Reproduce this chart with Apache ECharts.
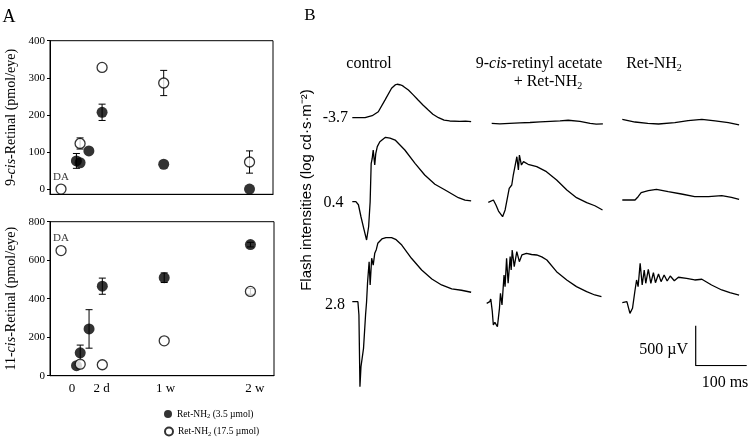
<!DOCTYPE html>
<html>
<head>
<meta charset="utf-8">
<script src="https://cdn.jsdelivr.net/npm/echarts@6/dist/echarts.min.js"></script>
<style>
html, body { margin: 0; padding: 0; background: #fff; }
#fig { width: 752px; height: 440px; }
</style>
</head>
<body>
<div id="fig"></div>
<script>
// ---------- panel A : retinal content (pmol/eye) ----------
// time positions on the (broken) time axis, DA = dark adapted
var dayLabels = ['0', '2 d', '1 w', '2 w'];
var dayLabelPos = [0, 2, 6.35, 12.4];
var lowDosePos = [0.3, 0.55, 1.15, 2.05, 6.25, 12.1];
var highDosePos = [-0.75, 0.55, 2.05, 6.25, 12.1];   // first one is DA

var cis9Low = [76, 71, 103, 207, 67, 0];
var cis9LowErr = [20, 0, 0, 22, 0, 0];
var cis9High = [0, 123, 328, 286, 73];
var cis9HighErr = [0, 15, 0, 34, 30];

var cis11Low = [52, 119, 243, 465, 509, 681];
var cis11LowErr = [0, 40, 100, 42, 25, 12];
var cis11High = [650, 60, 57, 181, 438];
var cis11HighErr = [0, 0, 0, 0, 15];

// ---------- panel B : ERG traces, [ms, µV] ----------
var ctrlDim = [[0,0],[25,0],[39,25],[51,75],[64,220],[77,368],[84,409],[88,418],[93,412],[97,405],[101,388],[110,346],[119,288],[129,221],[139,156],[149,96],[158,44],[169,0],[180,-31],[191,-41],[211,-46],[222,-44],[233,-50]];
var ctrlMid = [[0,0],[7,0],[12,-38],[17,-188],[23,-350],[28,-479],[32,-313],[35,0],[37,475],[39,540],[41,646],[43,520],[44,459],[46,600],[49,688],[54,750],[65,805],[74,794],[84,771],[103,646],[123,480],[142,334],[162,218],[182,146],[208,50],[221,19],[233,9]];
var ctrlBright = [[0,0],[11,0],[13,-167],[15,-1062],[17,-813],[22,-583],[26,-167],[28,0],[30,250],[33,500],[35,208],[38,543],[41,458],[44,605],[47,650],[50,730],[58,784],[66,800],[77,800],[86,775],[97,708],[116,543],[136,396],[156,284],[175,209],[195,159],[214,143],[233,118]];

var acetDim = [[0,0],[16,-6],[35,0],[55,6],[75,10],[95,19],[115,25],[134,31],[150,38],[173,25],[193,0],[205,-10],[218,-6]];
var acetMid = [[0,0],[10,29],[15,-34],[20,-109],[28,-180],[33,-96],[36,-118],[41,175],[46,216],[49,341],[52,320],[56,570],[59,404],[61,591],[65,466],[69,508],[78,475],[95,445],[114,383],[134,279],[154,154],[173,58],[193,-5],[209,-43],[224,-96]];
var acetBright = [[0,0],[6,20],[8,54],[11,-105],[13,-271],[16,-238],[21,-293],[25,-63],[27,125],[30,-21],[34,354],[36,208],[39,563],[42,250],[46,583],[48,416],[50,666],[54,458],[59,645],[64,520],[69,604],[78,625],[88,610],[98,604],[108,580],[118,541],[137,395],[157,291],[176,208],[196,145],[212,104],[225,83]];

var retDim = [[0,0],[25,-34],[50,-52],[71,-59],[103,-42],[129,-17],[156,0],[182,-21],[208,-42],[229,-71]];
var retMid = [[0,0],[25,0],[31,41],[37,91],[51,116],[67,134],[90,104],[116,75],[142,41],[169,41],[195,54],[214,34],[229,9]];
var retBright = [[0,0],[9,13],[15,-133],[20,-70],[25,159],[28,284],[31,200],[35,493],[39,221],[43,409],[46,243],[51,418],[56,243],[61,375],[65,250],[71,359],[76,263],[82,346],[88,271],[94,334],[102,275],[110,318],[126,305],[142,284],[156,293],[175,221],[195,159],[211,125],[229,96]];

var scaleBarMs = 100;
var scaleBarUv = 500;

// ---------- layout ----------
var SERIF = '"Liberation Serif", "Times New Roman", serif';
var SANS = '"Liberation Sans", Arial, sans-serif';
var PX_PER_MS = 0.51;
var PX_PER_UV = 0.08;
var T_MAX = 240, UV_MIN = -1200, UV_MAX = 900;

// start x and baseline y of each trace (pixels)
var traceList = [
    { d: ctrlDim,    x: 352.3, y: 117.7 },
    { d: ctrlMid,    x: 352.3, y: 201.7 },
    { d: ctrlBright, x: 352.3, y: 301.7 },
    { d: acetDim,    x: 491.7, y: 123.3 },
    { d: acetMid,    x: 488.3, y: 202.3 },
    { d: acetBright, x: 486.7, y: 303.3 },
    { d: retDim,     x: 622.3, y: 119.3 },
    { d: retMid,     x: 622.3, y: 200.0 },
    { d: retBright,  x: 622.3, y: 302.7 }
];

var chart = echarts.init(document.getElementById('fig'));

var grids = [
    { left: 50, top: 40.7, width: 223, height: 153.6, show: true, borderColor: '#000', borderWidth: 1, outerBoundsMode: 'none' },
    { left: 50, top: 221.7, width: 224, height: 154, show: true, borderColor: '#000', borderWidth: 1, outerBoundsMode: 'none' }
];
var tickLbl = { color: '#000', fontFamily: SERIF, fontSize: 11 };
var xAxes = [
    { gridIndex: 0, type: 'value', min: -1.5, max: 13.7, axisLabel: { show: false }, axisTick: { show: false }, splitLine: { show: false },
      axisLine: { onZero: false, lineStyle: { color: '#000' } } },
    { gridIndex: 1, type: 'value', min: -1.5, max: 13.7, axisTick: { show: false }, splitLine: { show: false },
      axisLine: { onZero: false, lineStyle: { color: '#000' } },
      axisLabel: { customValues: dayLabelPos, margin: 6, color: '#000', fontFamily: SERIF, fontSize: 13,
        formatter: function (v) { return dayLabels[dayLabelPos.indexOf(v)]; } } }
];
var nameStyle = { color: '#000', fontFamily: SERIF, fontSize: 14, rich: { i: { fontStyle: 'italic', fontFamily: SERIF, fontSize: 14 } } };
var yAxes = [
    { gridIndex: 0, type: 'value', min: -14, max: 400, splitLine: { show: false },
      axisLine: { show: true, onZero: false, lineStyle: { color: '#000' } },
      axisTick: { show: true, length: 3, customValues: [0, 100, 200, 300, 400], lineStyle: { color: '#000' } },
      axisLabel: Object.assign({ customValues: [0, 100, 200, 300, 400], margin: 5 }, tickLbl),
      name: '9-{i|cis}-Retinal (pmol/eye)', nameLocation: 'middle', nameGap: 32, nameTextStyle: nameStyle },
    { gridIndex: 1, type: 'value', min: 0, max: 800, interval: 200, splitLine: { show: false },
      axisLine: { show: true, onZero: false, lineStyle: { color: '#000' } },
      axisTick: { show: true, length: 3, lineStyle: { color: '#000' } },
      axisLabel: Object.assign({ margin: 5 }, tickLbl),
      name: '11-{i|cis}-Retinal (pmol/eye)', nameLocation: 'middle', nameGap: 32, nameTextStyle: nameStyle }
];

function renderErr(params, api) {
    var x = api.value(0), y = api.value(1), e = api.value(2);
    if (!e) return { type: 'group', children: [] };
    var hi = api.coord([x, y + e]), lo = api.coord([x, y - e]);
    var w = 3.5, st = { stroke: '#000', lineWidth: 1 };
    return { type: 'group', children: [
        { type: 'line', shape: { x1: hi[0], y1: hi[1], x2: lo[0], y2: lo[1] }, style: st },
        { type: 'line', shape: { x1: hi[0] - w, y1: hi[1], x2: hi[0] + w, y2: hi[1] }, style: st },
        { type: 'line', shape: { x1: lo[0] - w, y1: lo[1], x2: lo[0] + w, y2: lo[1] }, style: st }
    ] };
}
function errData(pos, vals, errs) {
    return pos.map(function (p, i) { return [p, vals[i], errs[i]]; });
}
function pointData(pos, vals, daFirst) {
    return pos.map(function (p, i) {
        if (daFirst && i === 0) {
            return { value: [p, vals[i]], label: { show: true, formatter: 'DA', position: 'top', distance: 1,
                color: '#000', fontFamily: SERIF, fontSize: 11 } };
        }
        return [p, vals[i]];
    });
}

var filledStyle = { color: '#000' };
var openStyle = { color: '#fff', borderColor: '#000', borderWidth: 1.3 };

var series = [];
[[cis9Low, cis9LowErr, cis9High, cis9HighErr], [cis11Low, cis11LowErr, cis11High, cis11HighErr]].forEach(function (g, k) {
    series.push({ type: 'custom', xAxisIndex: k, yAxisIndex: k, renderItem: renderErr, encode: { x: 0, y: 1 }, z: 1, silent: true,
        data: errData(lowDosePos, g[0], g[1]) });
    series.push({ type: 'custom', xAxisIndex: k, yAxisIndex: k, renderItem: renderErr, encode: { x: 0, y: 1 }, z: 1, silent: true,
        data: errData(highDosePos, g[2], g[3]) });
    series.push({ name: 'low', type: 'scatter', xAxisIndex: k, yAxisIndex: k, symbol: 'circle', symbolSize: 11, z: 3,
        itemStyle: filledStyle, data: pointData(lowDosePos, g[0], false) });
    series.push({ name: 'high', type: 'scatter', xAxisIndex: k, yAxisIndex: k, symbol: 'circle', symbolSize: 10, z: 3,
        itemStyle: openStyle, data: pointData(highDosePos, g[2], true) });
});

// one small hidden grid per trace, all on the same ms / µV scale
traceList.forEach(function (t, i) {
    var idx = grids.length;
    grids.push({ left: t.x, top: t.y - UV_MAX * PX_PER_UV, width: T_MAX * PX_PER_MS,
        height: (UV_MAX - UV_MIN) * PX_PER_UV, outerBoundsMode: 'none' });
    xAxes.push({ gridIndex: idx, type: 'value', min: 0, max: T_MAX, show: false });
    yAxes.push({ gridIndex: idx, type: 'value', min: UV_MIN, max: UV_MAX, show: false });
    series.push({ type: 'line', xAxisIndex: idx, yAxisIndex: idx, data: t.d, showSymbol: false, silent: true,
        lineStyle: { color: '#000', width: 1.3 }, z: 2 });
});

// scale bar, same scale
var sbIdx = grids.length;
grids.push({ left: 695.7, top: 365.7 - scaleBarUv * PX_PER_UV, width: scaleBarMs * PX_PER_MS,
    height: scaleBarUv * PX_PER_UV, outerBoundsMode: 'none' });
xAxes.push({ gridIndex: sbIdx, type: 'value', min: 0, max: scaleBarMs, show: false });
yAxes.push({ gridIndex: sbIdx, type: 'value', min: 0, max: scaleBarUv, show: false });
series.push({ type: 'line', xAxisIndex: sbIdx, yAxisIndex: sbIdx, showSymbol: false, silent: true,
    data: [[0, scaleBarUv], [0, 0], [scaleBarMs, 0]], lineStyle: { color: '#000', width: 1.2 } });

function txt(x, y, text, opt) {
    return { type: 'text', x: x, y: y, rotation: (opt && opt.rot) || 0, silent: true,
        style: Object.assign({ text: text, fill: '#000', fontFamily: SERIF, fontSize: 16,
            align: 'center', verticalAlign: 'middle' }, opt && opt.style) };
}
var subRich = { s: { fontSize: 10, fontFamily: SERIF, padding: [8, 0, 0, 0] }, i: { fontStyle: 'italic', fontSize: 16, fontFamily: SERIF } };

function legendAt(top, name, label) {
    return {
        left: 159, top: top, itemWidth: 8, itemHeight: 8, selectedMode: false, icon: 'circle', data: [name],
        textStyle: { color: '#000', fontFamily: SERIF, fontSize: 9.5,
            rich: { s: { fontSize: 6.5, fontFamily: SERIF, padding: [5, 0, 0, 0] } } },
        formatter: function () { return label; }
    };
}

var option = {
    animation: false,
    backgroundColor: '#fff',
    grid: grids,
    xAxis: xAxes,
    yAxis: yAxes,
    legend: [
        legendAt(404, 'low', 'Ret-NH{s|2} (3.5 µmol)'),
        legendAt(421.5, 'high', 'Ret-NH{s|2} (17.5 µmol)')
    ],
    graphic: [
        txt(9, 17, 'A', { style: { fontSize: 18 } }),
        txt(310, 16, 'B', { style: { fontSize: 17 } }),
        txt(369, 64, 'control'),
        txt(539, 64, '9-{i|cis}-retinyl acetate', { style: { rich: subRich } }),
        txt(548, 82, '+ Ret-NH{s|2}', { style: { rich: subRich } }),
        txt(654, 64, 'Ret-NH{s|2}', { style: { rich: subRich } }),
        txt(348, 117.7, '-3.7', { style: { align: 'right' } }),
        txt(343.5, 202.3, '0.4', { style: { align: 'right' } }),
        txt(345, 305, '2.8', { style: { align: 'right' } }),
        txt(307, 190, 'Flash intensities (log cd·s·m⁻²)', { rot: Math.PI / 2, style: { fontFamily: SANS, fontSize: 15 } }),
        txt(688, 350, '500 µV', { style: { align: 'right' } }),
        txt(725, 383, '100 ms')
    ],
    series: series
};
chart.setOption(option);
</script>
</body>
</html>
